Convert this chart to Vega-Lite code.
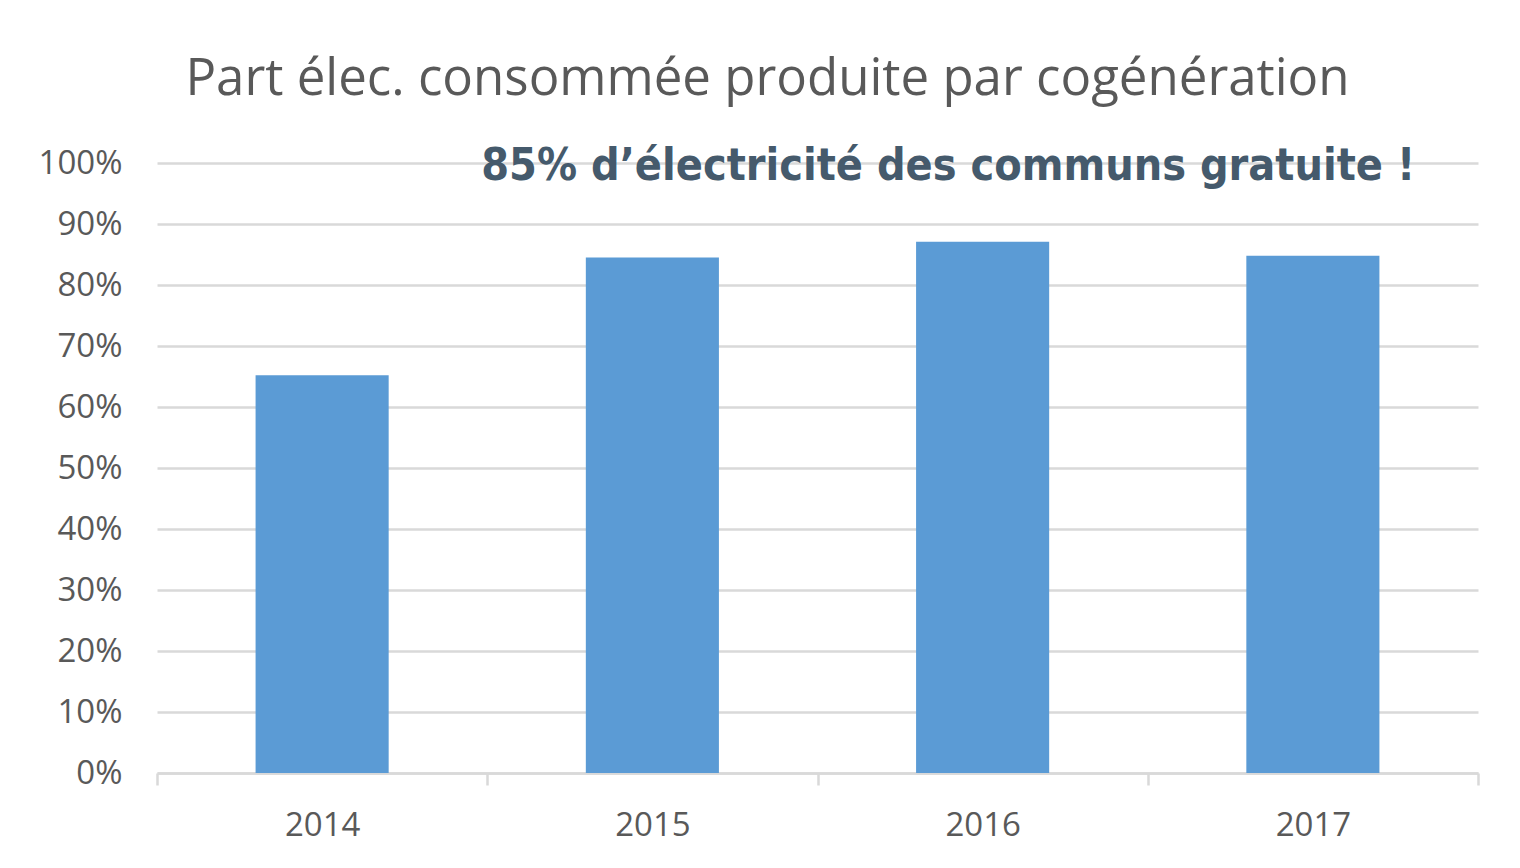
{
  "$schema": "https://vega.github.io/schema/vega-lite/v6.json",
  "width": 1321,
  "height": 610,
  "autosize": {"type": "none"},
  "padding": {"left": 157, "top": 163, "right": 42, "bottom": 95},
  "background": "white",
  "config": {"view": {"stroke": null}},
  "title": {
    "text": "Part élec. consommée produite par cogénération",
    "anchor": "middle",
    "frame": "group",
    "dx": -50,
    "offset": 38,
    "font": "Open Sans",
    "fontSize": 51,
    "fontWeight": "normal",
    "color": "#595959"
  },
  "data": {
    "values": [
      {"year": "2014", "share": 0.652},
      {"year": "2015", "share": 0.845},
      {"year": "2016", "share": 0.871},
      {"year": "2017", "share": 0.848}
    ]
  },
  "layer": [
    {
      "mark": {"type": "bar", "color": "#5b9bd5", "width": {"band": 0.403}},
      "encoding": {
        "x": {
          "field": "year",
          "type": "ordinal",
          "scale": {"paddingInner": 0, "paddingOuter": 0},
          "axis": {
            "title": null,
            "labelAngle": 0,
            "tickBand": "extent",
            "ticks": true,
            "tickSize": 12,
            "tickColor": "#d9d9d9",
            "tickWidth": 2.5,
            "domainColor": "#d9d9d9",
            "domainWidth": 2.5,
            "grid": false,
            "labelFont": "Open Sans",
            "labelFontSize": 33,
            "labelColor": "#595959",
            "labelPadding": 24
          }
        },
        "y": {
          "field": "share",
          "type": "quantitative",
          "scale": {"domain": [0, 1], "nice": false},
          "axis": {
            "title": null,
            "values": [0, 0.1, 0.2, 0.3, 0.4, 0.5, 0.6, 0.7, 0.8, 0.9, 1],
            "format": ".0%",
            "domain": false,
            "ticks": false,
            "labelPadding": 35,
            "labelFont": "Open Sans",
            "labelFontSize": 33,
            "labelColor": "#595959",
            "gridColor": "#d9d9d9",
            "gridWidth": 2.5
          }
        }
      }
    },
    {
      "data": {"values": [{"year": "2015", "share": 1.0, "label": "85% d’électricité des communs gratuite !"}]},
      "mark": {
        "type": "text",
        "align": "left",
        "baseline": "middle",
        "dx": -6,
        "dy": 4,
        "font": "Liberation Sans Narrow, DejaVu Sans Condensed, sans-serif",
        "fontWeight": "bold",
        "fontSize": 44.5,
        "color": "#455a6c"
      },
      "encoding": {
        "x": {"field": "year", "type": "ordinal", "bandPosition": 0},
        "y": {"field": "share", "type": "quantitative"},
        "text": {"field": "label"}
      }
    }
  ]
}
